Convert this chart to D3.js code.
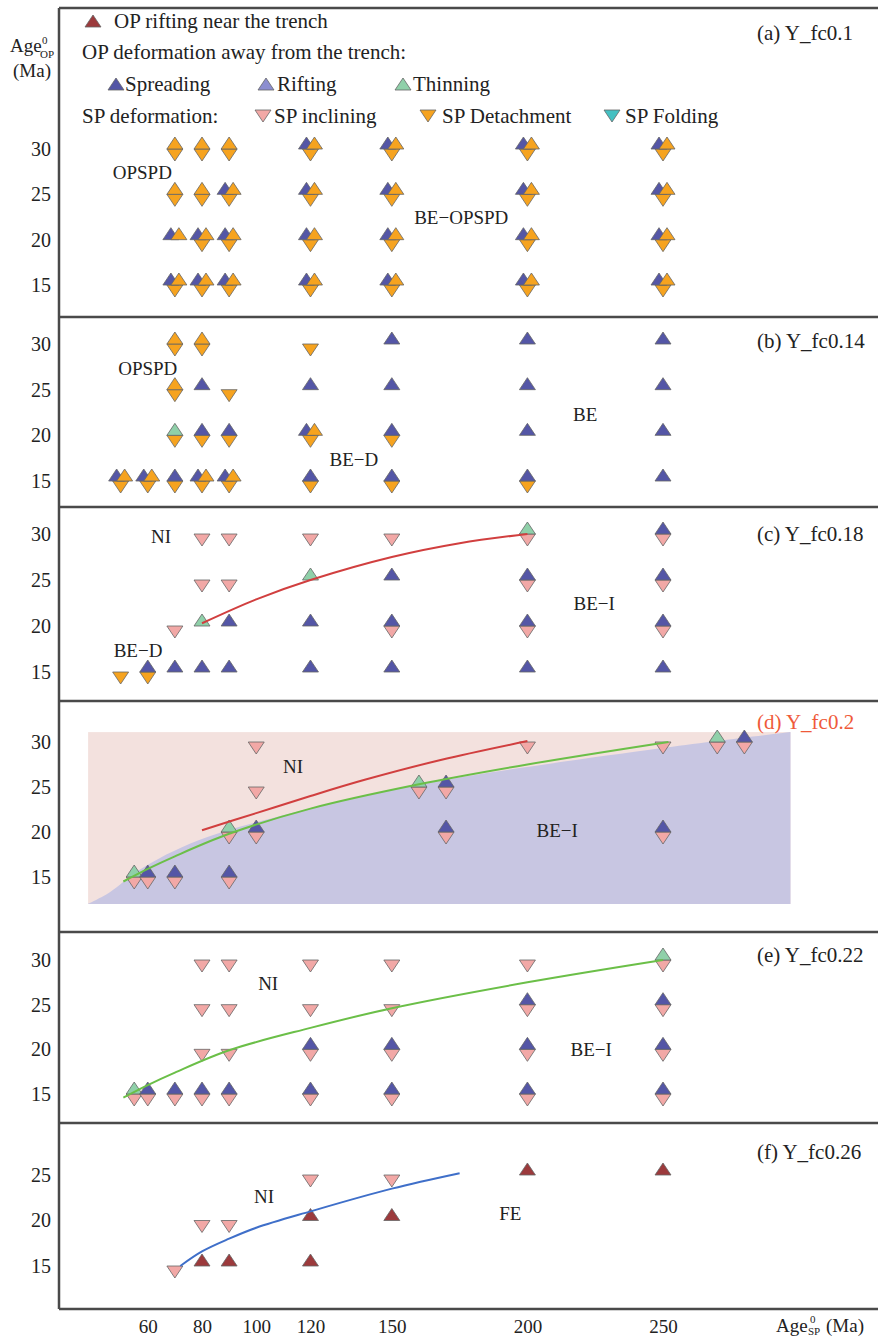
<!DOCTYPE html>
<html>
<head>
<meta charset="utf-8">
<script src="https://cdn.jsdelivr.net/npm/d3@7"></script>
<style>
  body { margin: 0; background: #fff; }
  text { font-family: "Liberation Serif", "Times New Roman", serif; fill: #222; }
</style>
</head>
<body>
<svg width="878" height="1337"></svg>
<script>
// ---- data ----
// point = [Age_SP, Age_OP, up-triangle codes, down-triangle code]
// up: S spreading, R rifting, T thinning, N OP rifting near trench, D detachment
// down: I inclining, D detachment, F folding
var panelTitles = ["(a) Y_fc0.1", "(b) Y_fc0.14", "(c) Y_fc0.18", "(d) Y_fc0.2", "(e) Y_fc0.22", "(f) Y_fc0.26"];
var xTicks = [60, 80, 100, 120, 150, 200, 250];
var yTicks = [15, 20, 25, 30];
var yTicksF = [15, 20, 25];

var pointsA = [
  [70, 30, "D", "D"], [70, 25, "D", "D"], [70, 20, "SD", ""], [70, 15, "SD", "D"],
  [80, 30, "D", "D"], [80, 25, "D", "D"], [80, 20, "SD", "D"], [80, 15, "SD", "D"],
  [90, 30, "D", "D"], [90, 25, "SD", "D"], [90, 20, "SD", "D"], [90, 15, "SD", "D"],
  [120, 30, "SD", "D"], [120, 25, "SD", "D"], [120, 20, "SD", "D"], [120, 15, "SD", "D"],
  [150, 30, "SD", "D"], [150, 25, "SD", "D"], [150, 20, "SD", "D"], [150, 15, "SD", "D"],
  [200, 30, "SD", "D"], [200, 25, "SD", "D"], [200, 20, "SD", "D"], [200, 15, "SD", "D"],
  [250, 30, "SD", "D"], [250, 25, "SD", "D"], [250, 20, "SD", "D"], [250, 15, "SD", "D"]
];
var pointsB = [
  [50, 15, "SD", "D"], [60, 15, "SD", "D"],
  [70, 30, "D", "D"], [70, 25, "D", "D"], [70, 20, "T", "D"], [70, 15, "S", "D"],
  [80, 30, "D", "D"], [80, 25, "S", ""], [80, 20, "S", "D"], [80, 15, "SD", "D"],
  [90, 25, "", "D"], [90, 20, "S", "D"], [90, 15, "SD", "D"],
  [120, 30, "", "D"], [120, 25, "S", ""], [120, 20, "SD", "D"], [120, 15, "S", "D"],
  [150, 30, "S", ""], [150, 25, "S", ""], [150, 20, "S", "D"], [150, 15, "S", "D"],
  [200, 30, "S", ""], [200, 25, "S", ""], [200, 20, "S", ""], [200, 15, "S", "D"],
  [250, 30, "S", ""], [250, 25, "S", ""], [250, 20, "S", ""], [250, 15, "S", ""]
];
var pointsC = [
  [50, 15, "", "D"], [60, 15, "S", "D"],
  [70, 20, "", "I"], [70, 15, "S", ""],
  [80, 30, "", "I"], [80, 25, "", "I"], [80, 20, "T", ""], [80, 15, "S", ""],
  [90, 30, "", "I"], [90, 25, "", "I"], [90, 20, "S", ""], [90, 15, "S", ""],
  [120, 30, "", "I"], [120, 25, "T", ""], [120, 20, "S", ""], [120, 15, "S", ""],
  [150, 30, "", "I"], [150, 25, "S", ""], [150, 20, "S", "I"], [150, 15, "S", ""],
  [200, 30, "T", "I"], [200, 25, "S", "I"], [200, 20, "S", "I"], [200, 15, "S", ""],
  [250, 30, "S", "I"], [250, 25, "S", "I"], [250, 20, "S", "I"], [250, 15, "S", ""]
];
var pointsD = [
  [55, 15, "T", "I"], [60, 15, "S", "I"], [70, 15, "S", "I"],
  [90, 20, "T", "I"], [90, 15, "S", "I"],
  [100, 30, "", "I"], [100, 25, "", "I"], [100, 20, "S", "I"],
  [160, 25, "T", "I"], [170, 25, "S", "I"], [170, 20, "S", "I"],
  [200, 30, "", "I"], [250, 30, "", "I"], [250, 20, "S", "I"],
  [270, 30, "T", "I"], [280, 30, "S", "I"]
];
var pointsE = [
  [55, 15, "T", "I"], [60, 15, "S", "I"], [70, 15, "S", "I"],
  [80, 30, "", "I"], [80, 25, "", "I"], [80, 20, "", "I"], [80, 15, "S", "I"],
  [90, 30, "", "I"], [90, 25, "", "I"], [90, 20, "", "I"], [90, 15, "S", "I"],
  [120, 30, "", "I"], [120, 25, "", "I"], [120, 20, "S", "I"], [120, 15, "S", "I"],
  [150, 30, "", "I"], [150, 25, "", "I"], [150, 20, "S", "I"], [150, 15, "S", "I"],
  [200, 30, "", "I"], [200, 25, "S", "I"], [200, 20, "S", "I"], [200, 15, "S", "I"],
  [250, 30, "T", "I"], [250, 25, "S", "I"], [250, 20, "S", "I"], [250, 15, "S", "I"]
];
var pointsF = [
  [70, 15, "", "I"], [80, 20, "", "I"], [80, 15, "N", ""], [90, 20, "", "I"], [90, 15, "N", ""],
  [120, 25, "", "I"], [120, 20, "N", ""], [120, 15, "N", ""],
  [150, 25, "", "I"], [150, 20, "N", ""], [200, 25, "N", ""], [250, 25, "N", ""]
];

// boundary curves
var lineC = [[80, 20.3], [100, 22.9], [120, 25], [150, 27.5], [175, 29], [200, 30]];
var lineDRed = [[80, 20.2], [100, 22.1], [120, 24.0], [140, 25.8], [168, 28.0], [200, 30.1]];
var lineDGreen = [[51, 14.5], [60, 15.9], [70, 17.3], [90, 19.8], [120, 22.6], [160, 25.3], [200, 27.5], [252, 30]];
var lineE = [[51, 14.6], [60, 16], [70, 17.4], [90, 19.9], [120, 22.4], [150, 24.6], [200, 27.5], [250, 30]];
var lineF = [[72, 15], [80, 16.6], [90, 18], [100, 19.2], [120, 21], [150, 23.5], [175, 25.2]];

// regime areas in panel d
var dBoxX = [38, 297], dBoxY = [12, 31.1];
var dBlueEdge = [[38, 12], [46, 13.3], [57, 15.8], [79, 19.1], [128, 23.2], [168, 25.7], [249, 29.3], [297, 31.1]];

// regime labels [text, Age_SP, Age_OP]
var labelsA = [["OPSPD", 58, 27.4], ["BE\u2212OPSPD", 175.6, 22.5]];
var labelsB = [["OPSPD", 60, 27.3], ["BE\u2212D", 136, 17.4], ["BE", 221.3, 22.3]];
var labelsC = [["NI", 64.9, 29.7], ["BE\u2212D", 56.4, 17.3], ["BE\u2212I", 224.6, 22.4]];
var labelsD = [["NI", 113.6, 27.3], ["BE\u2212I", 211, 20.2]];
var labelsE = [["NI", 104.4, 27.4], ["BE\u2212I", 223.5, 20]];
var labelsF = [["NI", 102.9, 22.6], ["FE", 193.7, 20.8]];

var upColor = { S: "#5456a6", R: "#8c8ed0", T: "#8fd0a9", N: "#9c3a3c", D: "#f6a31f" };
var downColor = { I: "#f2a8a6", D: "#f6a31f", F: "#44c0c2" };

// ---- layout ----
var left = 59, right = 878;
var panels = [
  { top: 8, bottom: 317, y15: 285, y30: 149, pts: pointsA, labels: labelsA, ticks: yTicks },
  { top: 317, bottom: 507, y15: 481, y30: 344, pts: pointsB, labels: labelsB, ticks: yTicks },
  { top: 507, bottom: 701, y15: 672, y30: 534, pts: pointsC, labels: labelsC, ticks: yTicks },
  { top: 701, bottom: 932, y15: 877, y30: 742, pts: pointsD, labels: labelsD, ticks: yTicks },
  { top: 932, bottom: 1123, y15: 1094, y30: 960, pts: pointsE, labels: labelsE, ticks: yTicks },
  { top: 1123, bottom: 1309, y15: 1266, y30: 1129.5, pts: pointsF, labels: labelsF, ticks: yTicksF }
];
var titleY = [33, 341, 534, 722, 955, 1152];

var svg = d3.select("svg");
var x = d3.scaleLinear().domain([80, 250]).range([202, 663]);

var tw = 8, th = 12;
function upPath(cx, cy) { return "M" + (cx - tw) + "," + cy + "L" + (cx + tw) + "," + cy + "L" + cx + "," + (cy - th) + "Z"; }
function downPath(cx, cy) { return "M" + (cx - tw) + "," + cy + "L" + (cx + tw) + "," + cy + "L" + cx + "," + (cy + th) + "Z"; }

function drawMarker(g, cx, cy, up, down) {
  if (down) {
    g.append("path").attr("d", downPath(cx, cy))
      .attr("fill", downColor[down]).attr("stroke", "#666").attr("stroke-width", 0.8);
  }
  var ups = up.split("");
  ups.forEach(function (c, i) {
    var off = ups.length > 1 ? (i - (ups.length - 1) / 2) * 8 : 0;
    g.append("path").attr("d", upPath(cx + off, cy))
      .attr("fill", upColor[c]).attr("stroke", "#666").attr("stroke-width", 0.8);
  });
}

panels.forEach(function (p, i) {
  var y = d3.scaleLinear().domain([15, 30]).range([p.y15, p.y30]);
  var g = svg.append("g");
  var line = d3.line().x(function (d) { return x(d[0]); }).y(function (d) { return y(d[1]); })
    .curve(d3.curveCatmullRom.alpha(0.5));

  if (i == 3) {
    g.append("rect")
      .attr("x", x(dBoxX[0])).attr("y", y(dBoxY[1]))
      .attr("width", x(dBoxX[1]) - x(dBoxX[0])).attr("height", y(dBoxY[0]) - y(dBoxY[1]))
      .attr("fill", "#f3e1de");
    g.append("path")
      .attr("d", line(dBlueEdge) + "L" + x(dBoxX[1]) + "," + y(dBoxY[0]) + "Z")
      .attr("fill", "#c8c6e2");
  }

  // y axis ticks
  var ax = g.append("g")
    .attr("transform", "translate(" + left + ",0)")
    .call(d3.axisLeft(y).tickValues(p.ticks).tickSize(0).tickPadding(8));
  ax.select(".domain").remove();
  ax.selectAll("text").style("font-size", "20px").style("font-family", "Liberation Serif").attr("fill", "#222");

  p.pts.forEach(function (d) { drawMarker(g, x(d[0]), y(d[1]), d[2], d[3]); });

  var curves = [];
  if (i == 2) curves = [[lineC, "#d13f3f"]];
  if (i == 3) curves = [[lineDRed, "#d13f3f"], [lineDGreen, "#6bbf48"]];
  if (i == 4) curves = [[lineE, "#6bbf48"]];
  if (i == 5) curves = [[lineF, "#3f6fc9"]];
  curves.forEach(function (c) {
    g.append("path").attr("d", line(c[0])).attr("fill", "none").attr("stroke", c[1]).attr("stroke-width", 2);
  });

  p.labels.forEach(function (l) {
    g.append("text").attr("x", x(l[1])).attr("y", y(l[2]))
      .attr("text-anchor", "middle").attr("dominant-baseline", "central")
      .style("font-size", "19px").text(l[0]);
  });

  g.append("text").attr("x", 757).attr("y", titleY[i])
    .attr("dominant-baseline", "central").style("font-size", "21px")
    .style("fill", i == 3 ? "#ef5a3a" : "#222").text(panelTitles[i]);

  // panel border
  g.append("line").attr("x1", left).attr("x2", right).attr("y1", p.bottom).attr("y2", p.bottom)
    .attr("stroke", "#4a4a4a").attr("stroke-width", 2.5);
});

// frame
svg.append("line").attr("x1", left).attr("x2", right).attr("y1", 8).attr("y2", 8)
  .attr("stroke", "#4a4a4a").attr("stroke-width", 2.5);
svg.append("line").attr("x1", left).attr("x2", left).attr("y1", 8).attr("y2", 1309)
  .attr("stroke", "#4a4a4a").attr("stroke-width", 2.5);

// x axis
var xa = svg.append("g").attr("transform", "translate(0,1309)")
  .call(d3.axisBottom(x).tickValues(xTicks).tickSize(0));
xa.select(".domain").remove();
xa.selectAll("text").attr("y", 17).attr("dy", null).attr("dominant-baseline", "central")
  .style("font-size", "19px").style("font-family", "Liberation Serif").attr("fill", "#222");

// axis titles
var yt = svg.append("g");
yt.append("text").attr("x", 10).attr("y", 52).style("font-size", "19px").text("Age");
yt.append("text").attr("x", 42).attr("y", 44).style("font-size", "11px").text("0");
yt.append("text").attr("x", 40).attr("y", 58).style("font-size", "11px").text("OP");
yt.append("text").attr("x", 13).attr("y", 77).style("font-size", "19px").text("(Ma)");

var xt = svg.append("g");
xt.append("text").attr("x", 776).attr("y", 1332).style("font-size", "19px").text("Age");
xt.append("text").attr("x", 810).attr("y", 1323).style("font-size", "11px").text("0");
xt.append("text").attr("x", 808).attr("y", 1335).style("font-size", "11px").text("SP");
xt.append("text").attr("x", 826).attr("y", 1332).style("font-size", "19px").text("(Ma)");

// legend
var lg = svg.append("g").style("font-size", "21px");
function legUp(cx, cy, c) {
  lg.append("path").attr("d", upPath(cx, cy + 6)).attr("fill", c).attr("stroke", "#666").attr("stroke-width", 0.8);
}
function legDown(cx, cy, c) {
  lg.append("path").attr("d", downPath(cx, cy - 6)).attr("fill", c).attr("stroke", "#666").attr("stroke-width", 0.8);
}
legUp(93, 21, upColor.N);
lg.append("text").attr("x", 114).attr("y", 21).attr("dominant-baseline", "central").text("OP rifting near the trench");
lg.append("text").attr("x", 82).attr("y", 52).attr("dominant-baseline", "central").text("OP deformation away from the trench:");
legUp(116, 84, upColor.S);
lg.append("text").attr("x", 125).attr("y", 84).attr("dominant-baseline", "central").text("Spreading");
legUp(266, 84, upColor.R);
lg.append("text").attr("x", 277).attr("y", 84).attr("dominant-baseline", "central").text("Rifting");
legUp(403, 84, upColor.T);
lg.append("text").attr("x", 413).attr("y", 84).attr("dominant-baseline", "central").text("Thinning");
lg.append("text").attr("x", 82).attr("y", 116).attr("dominant-baseline", "central").text("SP deformation:");
legDown(263, 116, downColor.I);
lg.append("text").attr("x", 274).attr("y", 116).attr("dominant-baseline", "central").text("SP inclining");
legDown(428, 116, downColor.D);
lg.append("text").attr("x", 442).attr("y", 116).attr("dominant-baseline", "central").text("SP Detachment");
legDown(612, 116, downColor.F);
lg.append("text").attr("x", 625).attr("y", 116).attr("dominant-baseline", "central").text("SP Folding");
</script>
</body>
</html>
